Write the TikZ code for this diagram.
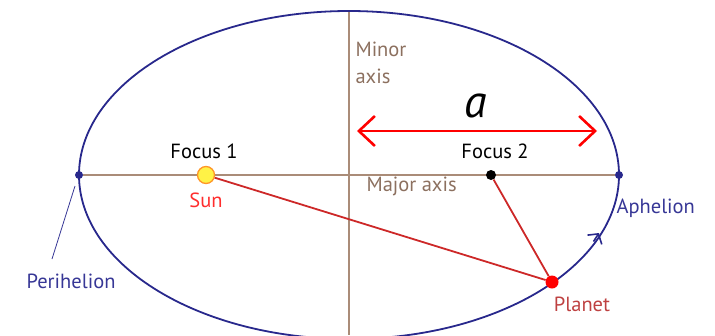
\documentclass[tikz,border=0pt]{standalone}
\usepackage{fontspec}
\setmainfont{PT Sans}
\usetikzlibrary{arrows.meta}
\definecolor{orbitblue}{RGB}{40,40,140}
\definecolor{axisbrown}{RGB}{170,140,120}
\definecolor{axistext}{RGB}{140,112,95}
\definecolor{labelblue}{RGB}{55,55,150}
\definecolor{sunred}{RGB}{255,45,45}
\definecolor{planetred}{RGB}{190,65,65}
\definecolor{linered}{RGB}{205,40,40}
\definecolor{sunyellow}{RGB}{255,242,70}
\definecolor{sunorange}{RGB}{255,150,40}

\begin{document}
\begin{tikzpicture}[x=1pt,y=-1pt,
  lbl/.style={font=\fontsize{20.5}{27}\selectfont},
  dot/.style={circle,inner sep=0pt,minimum size=#1},
  orbit/.style={orbitblue,line width=1.8pt},
  axis/.style={axisbrown,line width=1.8pt}]
\useasboundingbox (0,0) rectangle (715,335);
\clip (0,0) rectangle (715,335);
% axes and orbit
\coordinate (minortop) at (349,11);
\coordinate (minorbot) at (349,335);
\draw[axis] (minortop) -- (minorbot);
\draw[orbit] (349,175) ellipse [x radius=270, y radius=164];
\node[dot=8pt,fill=orbitblue] (peri) at (79,175) {};
\node[dot=8pt,fill=orbitblue] (aph) at (619,175) {};
\draw[axis] (peri) -- (aph);
% bodies
\node[dot=10pt,fill=black] (focus2) at (491,175) {};
\node[dot=13pt,fill=red] (planet) at (552,282) {};
\node[dot=17pt,fill=sunyellow,draw=sunorange,line width=1.3pt] (sun) at (206,175) {};
\draw[linered,line width=1.8pt] (sun) -- (planet);
\draw[linered,line width=1.8pt] (focus2) -- (planet);
% semi-major axis
\coordinate (aleft) at (357,131);
\coordinate (aright) at (597,131);
\draw[red,line width=2.6pt,{Straight Barb[length=16pt,width=30pt]}-{Straight Barb[length=16pt,width=30pt]}] (aleft) -- (aright);
\node[font=\fontsize{46}{46}\selectfont\itshape] (alabel) at (476,106) {a};
% direction of motion
\coordinate (dirfrom) at (593.5,241.5);
\coordinate (dirto) at (599,233);
\draw[orbitblue,line width=1.6pt,-{Straight Barb[length=7pt,width=17pt]}] (dirfrom) -- (dirto);
% labels
\node[lbl,axistext,align=left,anchor=north west] (minor) at (352,38) {Minor\\axis};
\node[lbl,axistext,anchor=west] (major) at (363,186) {Major axis};
\node[lbl] (f1) at (204,151) {Focus 1};
\node[lbl] (f2) at (495,151) {Focus 2};
\node[lbl,sunred] (sunlbl) at (206,200) {Sun};
\node[lbl,planetred] (planetlbl) at (582,304) {Planet};
\node[lbl,labelblue,anchor=west] (aphlbl) at (613,208) {Aphelion};
\node[lbl,labelblue] (perilbl) at (71,281) {Perihelion};
\coordinate (ptr1) at (75,186);
\coordinate (ptr2) at (52,259);
\draw[labelblue,line width=0.8pt] (ptr1) -- (ptr2);
\end{tikzpicture}
\end{document}
